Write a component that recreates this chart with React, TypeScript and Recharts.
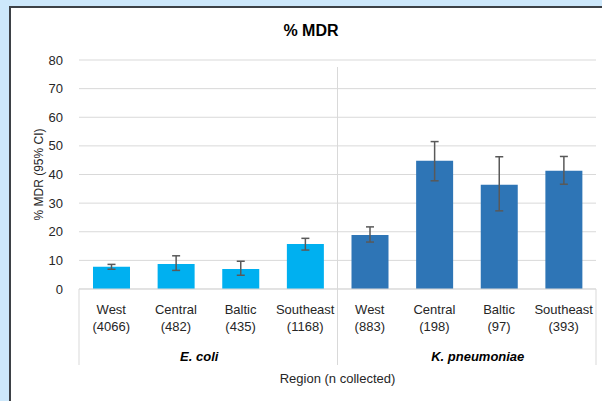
import { BarChart, Bar, XAxis, YAxis, CartesianGrid, ErrorBar, Cell } from "recharts";

const regions = ["West", "Central", "Baltic", "Southeast", "West", "Central", "Baltic", "Southeast"];
const nCollected = [4066, 482, 435, 1168, 883, 198, 97, 393];
const organisms = ["E. coli", "K. pneumoniae"];
const organismOf = [0, 0, 0, 0, 1, 1, 1, 1];
const mdrPct = [7.8, 8.7, 7.0, 15.7, 18.9, 44.8, 36.4, 41.3];
const ciLow = [6.9, 6.5, 4.8, 13.6, 16.4, 37.8, 27.3, 36.6];
const ciHigh = [8.6, 11.6, 9.7, 17.7, 21.7, 51.5, 46.2, 46.3];
const yTicks = [0, 10, 20, 30, 40, 50, 60, 70, 80];

const organismColors = ["#00b0f0", "#2e75b6"];
// group labels are not quite centred under their groups in the original
const organismLabelShift = [-9, 11];

const data = regions.map((r, i) => ({
  key: `${r}-${i}`,
  region: r,
  n: nCollected[i],
  value: mdrPct[i],
  err: [mdrPct[i] - ciLow[i], ciHigh[i] - mdrPct[i]],
}));

const W = 602;
const H = 401;
const LEFT = 79;
const RIGHT = 6;
const TOP = 60;
const XAXIS_H = 112;
const BAND = (W - LEFT - RIGHT) / regions.length;
const PLOT_H = H - TOP - XAXIS_H;
const FONT = "'Liberation Sans', Arial, sans-serif";
const GRID = "#d9d9d9";

function RegionTick(props: any) {
  const { x, y, payload } = props;
  const i = payload.index;
  const d = data[i];
  const org = organismOf[i];
  return (
    <g>
      <text x={x} y={y + 25} textAnchor="middle" fontSize={13} fill="#262626" fontFamily={FONT}>
        {d.region}
      </text>
      <text x={x} y={y + 42} textAnchor="middle" fontSize={13} fill="#262626" fontFamily={FONT}>
        ({d.n})
      </text>
      {i === 0 && <line x1={x - BAND / 2} x2={x - BAND / 2} y1={y} y2={y + 76} stroke={GRID} />}
      {i === 4 && (
        <line x1={x - BAND / 2} x2={x - BAND / 2} y1={y - PLOT_H + 7} y2={y + 76} stroke={GRID} />
      )}
      {i === regions.length - 1 && (
        <line x1={x + BAND / 2} x2={x + BAND / 2} y1={y} y2={y + 76} stroke={GRID} />
      )}
      {(i === 0 || i === 4) && (
        <text
          x={x + 1.5 * BAND + organismLabelShift[org]}
          y={y + 72}
          textAnchor="middle"
          fontSize={13}
          fontWeight="bold"
          fontStyle="italic"
          fill="#000"
          fontFamily={FONT}
        >
          {organisms[org]}
        </text>
      )}
    </g>
  );
}

export default function App() {
  return (
    <div style={{ position: "fixed", left: 0, top: 0, width: W, height: H, background: "#cde8fb", overflow: "hidden" }}>
      <div
        style={{
          position: "absolute",
          left: 9,
          top: 6,
          width: W,
          height: H,
          background: "#fff",
          borderLeft: "2px solid #3d4146",
          borderTop: "2px solid #3d4146",
        }}
      />
      <div
        style={{
          position: "absolute",
          left: 0,
          top: 22,
          width: 622,
          textAlign: "center",
          fontFamily: FONT,
          fontWeight: "bold",
          fontSize: 16,
          color: "#000",
        }}
      >
        % MDR
      </div>
      <div style={{ position: "absolute", left: 0, top: 0 }}>
        <BarChart
          width={W}
          height={H}
          data={data}
          margin={{ top: TOP, right: RIGHT, bottom: 0, left: 0 }}
          barSize={37}
        >
          <CartesianGrid vertical={false} stroke={GRID} />
          <XAxis
            dataKey="key"
            height={XAXIS_H}
            tickLine={false}
            tickSize={0}
            tickMargin={0}
            axisLine={{ stroke: GRID }}
            interval={0}
            tick={<RegionTick />}
            label={{
              value: "Region (n collected)",
              position: "insideBottom",
              offset: 18,
              style: { fontSize: 13, fill: "#262626", fontFamily: FONT },
            }}
          />
          <YAxis
            width={LEFT}
            domain={[0, 80]}
            ticks={yTicks}
            tickLine={false}
            axisLine={false}
            tickMargin={10}
            tick={{ fontSize: 13, fill: "#262626", fontFamily: FONT }}
            label={{
              content: () => (
                <text
                  x={39}
                  y={TOP + PLOT_H / 2}
                  transform={`rotate(-90 39 ${TOP + PLOT_H / 2})`}
                  textAnchor="middle"
                  dominantBaseline="central"
                  fontSize={12}
                  fill="#262626"
                  fontFamily={FONT}
                >
                  % MDR (95% CI)
                </text>
              ),
            }}
          />
          <Bar dataKey="value" isAnimationActive={false}>
            {data.map((d, i) => (
              <Cell key={d.key} fill={organismColors[organismOf[i]]} />
            ))}
            <ErrorBar dataKey="err" width={4} stroke="#595959" strokeWidth={1.5} isAnimationActive={false} />
          </Bar>
        </BarChart>
      </div>
    </div>
  );
}
